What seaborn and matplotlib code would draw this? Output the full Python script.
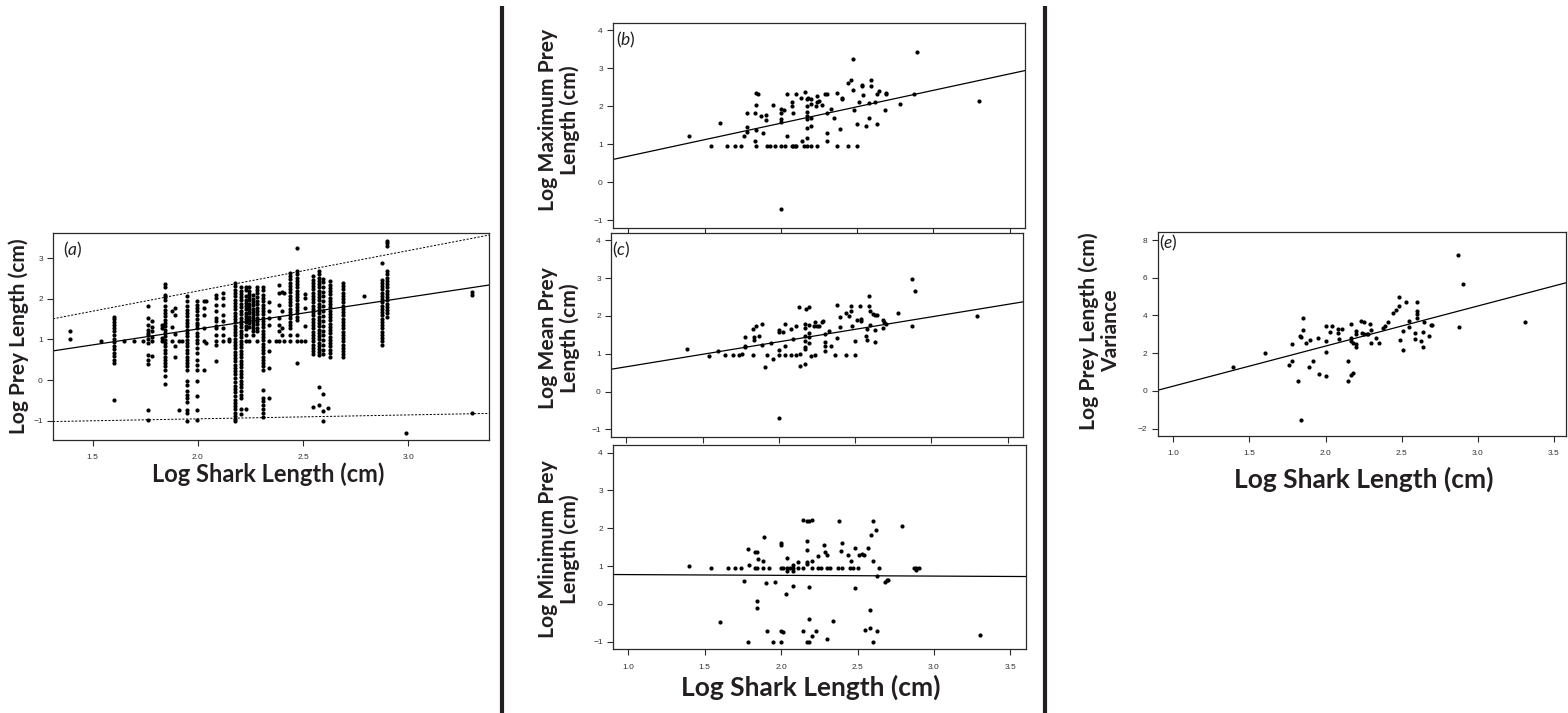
import numpy as np
import matplotlib
matplotlib.use("Agg")
import matplotlib.pyplot as plt
from matplotlib.lines import Line2D
import seaborn as sns

sns.set_theme(style="white")
plt.rcParams["font.family"] = ["Lato", "DejaVu Sans"]
plt.rcParams["mathtext.fontset"] = "custom"
plt.rcParams["mathtext.rm"] = "Lato"
plt.rcParams["mathtext.it"] = "Lato:italic"

# ---------------------------------------------------------------- panel (a)
# individual prey records, grouped by shark log length
a_cols_x = [1.39, 1.54, 1.60, 1.65, 1.695, 1.74, 1.765, 1.78, 1.83, 1.845,
            1.875, 1.89, 1.91, 1.925, 1.95, 1.995, 2.03, 2.04, 2.085, 2.12,
            2.15, 2.178, 2.205, 2.23, 2.245, 2.26, 2.28, 2.31, 2.34, 2.37,
            2.385, 2.40, 2.41, 2.44, 2.47, 2.49, 2.51, 2.545, 2.575, 2.595,
            2.62, 2.63, 2.69, 2.79, 2.875, 2.90, 2.99, 3.305]
a_cols_y = [
    [1.22, 1.00],
    [0.95],
    [1.56, 1.50, 1.44, 1.36, 1.28, 1.20, 1.10, 1.01, 0.93, 0.85, 0.76, 0.67, 0.59, 0.50, 0.41, -0.48],
    [0.95],
    [0.95],
    [0.95],
    [1.83, 1.54, 1.36, 1.24, 1.17, 1.12, 1.01, 0.91, 0.62, 0.50, 0.39, -0.73, -0.99],
    [1.46, 1.31, 1.21, 1.05, 0.95, 0.60],
    [1.36, 1.28, 1.03, 0.95],
    [2.37, 2.30, 2.10, 2.04, 1.98, 1.82, 1.73, 1.65, 1.57, 1.49, 1.40, 1.32, 1.24, 1.16,
     1.08, 0.99, 0.91, 0.83, 0.75, 0.67, 0.58, 0.50, 0.42, 0.34, 0.25, 0.09, -0.10],
    [1.71, 1.31, 0.95],
    [1.77, 1.61, 1.13, 0.83, 0.56],
    [0.95, -0.73],
    [0.95],
    [2.06, 1.94, 1.82, 1.73, 1.65, 1.57, 1.49, 1.40, 1.32, 1.24, 1.16, 1.08, 0.99, 0.91,
     0.83, 0.75, 0.67, 0.58, 0.50, 0.42, 0.34, 0.25, -0.03, -0.11, -0.28, -0.36, -0.44,
     -0.53, -0.73, -0.81, -1.00],
    [1.95, 1.86, 1.77, 1.69, 1.61, 1.51, 1.40, 1.36, 1.28, 1.16, 1.08, 0.99, 0.91, 0.79,
     0.67, 0.50, 0.38, 0.25, -0.03, -0.40, -0.73, -0.99],
    [1.94, 1.77, 1.59, 1.28, 0.95, 0.25],
    [1.95, 0.91],
    [2.10, 2.02, 1.86, 1.71, 1.54, 1.46, 1.32, 1.28, 1.12, 0.95, 0.87, 0.48],
    [2.14, 2.02, 1.86, 1.61, 1.45, 1.28, 1.12, 0.95],
    [1.00, 0.95],
    [2.38, 2.31, 2.22, 2.14, 2.06, 1.98, 1.90, 1.82, 1.74, 1.66, 1.58, 1.50, 1.42, 1.34,
     1.26, 1.18, 1.10, 1.02, 0.94, 0.86, 0.78, 0.70, 0.62, 0.54, 0.46, 0.38, 0.30, 0.22,
     0.14, 0.05, -0.04, -0.14, -0.22, -0.30, -0.40, -0.48, -0.56, -0.64, -0.72, -0.80,
     -0.88, -0.96, -1.00],
    [2.28, 2.20, 2.12, 2.04, 1.96, 1.88, 1.80, 1.70, 1.62, 1.54, 1.46, 1.38, 1.30, 1.22,
     1.14, 1.05, 0.97, 0.89, 0.81, 0.72, 0.64, 0.56, 0.48, 0.40, 0.31, 0.23, 0.15, 0.07,
     -0.02, -0.10, -0.18, -0.27, -0.36, -0.44, -0.72, -0.84],
    [2.30, 2.22, 2.06, 1.98, 1.90, 1.82, 1.74, 1.66, 1.58, 1.50, 1.42, 1.34, 1.26, 1.10, 0.95, -0.72],
    [2.28, 2.20, 2.12, 2.04, 1.96, 1.88, 1.80, 1.72, 1.64, 1.56, 1.48, 1.40, 1.30, 0.97],
    [2.10, 2.00, 1.92, 1.84, 1.76, 1.68, 1.60, 1.52, 1.44, 1.36, 1.28, 1.20, 1.12],
    [2.30, 2.22, 2.14, 2.04, 1.95, 1.87, 1.78, 1.70, 1.62, 1.53, 1.45, 1.37, 1.29, 1.21, 0.95],
    [2.30, 2.22, 2.10, 2.02, 1.94, 1.86, 1.78, 1.70, 1.62, 1.54, 1.46, 1.38, 1.30, 1.22,
     1.14, 1.06, 0.98, 0.90, 0.82, 0.74, 0.66, 0.58, 0.50, 0.42, 0.34, 0.26, -0.24, -0.44,
     -0.52, -0.62, -0.70, -0.80, -0.90],
    [1.92, 1.69, 1.54, 1.36, 0.95, 0.71, 0.30, -0.44],
    [0.95],
    [2.35, 2.14, 1.86, 1.53, 1.36, 1.20, 0.95],
    [2.18, 1.69, 1.28, 1.12],
    [2.14, 0.95],
    [2.64, 2.56, 2.48, 2.40, 2.32, 2.24, 2.16, 2.08, 2.00, 1.92, 1.84, 1.76, 1.68, 1.60,
     1.52, 1.44, 1.36, 1.28, 1.12, 0.95],
    [3.25, 2.68, 2.60, 2.52, 2.44, 2.36, 2.28, 2.20, 2.12, 2.04, 1.96, 1.88, 1.80, 1.72,
     1.64, 1.56, 1.48, 1.12, 0.95, 0.42],
    [0.95],
    [2.12, 2.02, 1.77, 1.32, 0.95],
    [2.55, 2.47, 2.39, 2.31, 2.23, 2.15, 2.07, 1.99, 1.91, 1.83, 1.75, 1.67, 1.59, 1.51,
     1.43, 1.35, 1.27, 1.19, 1.11, 1.03, 0.95, 0.87, 0.79, 0.71, 0.63, -0.67],
    [2.68, 2.60, 2.52, 2.44, 2.36, 2.28, 2.20, 2.12, 2.04, 1.96, 1.88, 1.80, 1.72, 1.64,
     1.56, 1.48, 1.40, 1.32, 1.24, 1.16, 1.08, 1.00, 0.92, 0.84, 0.76, 0.68, 0.62, -0.16, -0.61],
    [2.50, 2.42, 2.30, 2.18, 2.06, 1.94, 1.82, 1.70, 1.58, 1.46, 1.34, 1.22, 1.10, 0.98,
     0.86, 0.74, 0.64, -0.34, -0.76, -1.00],
    [-0.69],
    [2.43, 2.35, 2.27, 2.19, 2.11, 2.03, 1.95, 1.87, 1.79, 1.71, 1.63, 1.55, 1.47, 1.39,
     1.31, 1.23, 1.15, 1.07, 0.99, 0.91, 0.83, 0.75, 0.67, 0.58],
    [2.39, 2.31, 2.23, 2.15, 2.07, 1.99, 1.91, 1.83, 1.75, 1.67, 1.59, 1.51, 1.43, 1.35,
     1.27, 1.19, 1.11, 1.03, 0.95, 0.87, 0.79, 0.71, 0.63, 0.58],
    [2.08],
    [2.88, 2.47, 2.39, 2.31, 2.23, 2.15, 2.07, 1.99, 1.91, 1.83, 1.75, 1.67, 1.59, 1.51,
     1.43, 1.35, 1.27, 1.19, 1.11, 1.03, 0.95, 0.86],
    [3.43, 3.37, 3.31, 2.68, 2.60, 2.52, 2.44, 2.36, 2.28, 2.20, 2.12, 2.04, 1.96, 1.88,
     1.80, 1.72, 1.64, 1.56],
    [-1.31],
    [2.17, 2.10, -0.81],
]
# regression lines (intercept, slope): 10th, 50th and 90th percentile
a_fit_lower = (-1.147, 0.0965)
a_fit_mid = (-0.307, 0.782)
a_fit_upper = (0.205, 0.994)

# ---------------------------------------------------------------- panel (b)
b_shark = [1.40, 1.54, 1.60, 1.65, 1.70, 1.74, 1.76, 1.78, 1.78, 1.78, 1.83, 1.83,
           1.84, 1.84, 1.84, 1.84, 1.85, 1.87, 1.88, 1.90, 1.90, 1.91, 1.93, 1.95,
           1.96, 2.00, 2.00, 2.00, 2.00, 2.00, 2.00, 2.02, 2.03, 2.04, 2.04, 2.07,
           2.08, 2.09, 2.07, 2.07, 2.08, 2.10, 2.10, 2.13, 2.14, 2.15, 2.16, 2.17,
           2.17, 2.17, 2.17, 2.17, 2.17, 2.17, 2.17, 2.18, 2.20, 2.20, 2.20, 2.20,
           2.20, 2.23, 2.24, 2.24, 2.24, 2.25, 2.27, 2.29, 2.30, 2.30, 2.30, 2.30,
           2.33, 2.35, 2.37, 2.37, 2.39, 2.40, 2.40, 2.44, 2.44, 2.46, 2.47, 2.47,
           2.48, 2.50, 2.50, 2.51, 2.53, 2.53, 2.54, 2.56, 2.58, 2.58, 2.59, 2.59,
           2.62, 2.63, 2.63, 2.64, 2.68, 2.69, 2.69, 2.78, 2.87, 2.89, 3.30]
b_max = [1.22, 0.96, 1.56, 0.96, 0.96, 0.96, 1.22, 1.82, 1.44, 1.31, 1.08, 1.82,
         0.96, 1.37, 2.02, 2.35, 2.32, 1.73, 1.30, 1.77, 1.63, 0.96, 0.96, 2.04,
         0.96, 1.93, 1.81, 1.67, 1.58, 0.96, -0.71, 1.89, 0.96, 1.22, 2.32, 0.96,
         0.96, 0.96, 2.11, 2.00, 1.81, 2.31, 0.96, 2.22, 1.08, 0.96, 2.38, 2.18,
         2.00, 1.84, 1.74, 1.67, 1.42, 1.15, 0.96, 2.22, 2.18, 2.07, 1.69, 1.48,
         0.96, 2.00, 2.10, 2.28, 0.96, 2.13, 2.04, 2.32, 2.32, 1.81, 1.30, 1.08,
         1.92, 1.70, 0.96, 2.35, 1.40, 2.20, 2.22, 2.62, 0.96, 2.68, 3.25, 2.42,
         1.89, 0.96, 1.53, 2.11, 2.53, 2.55, 2.29, 1.48, 1.68, 2.09, 2.53, 2.68,
         2.11, 1.54, 2.32, 2.40, 1.89, 2.31, 2.36, 2.07, 2.31, 3.43, 2.14]
b_fit = (-0.182, 0.867)

# ---------------------------------------------------------------- panel (c)
c_shark = [1.40, 1.54, 1.60, 1.65, 1.70, 1.74, 1.76, 1.78, 1.78, 1.78, 1.83, 1.83,
           1.84, 1.84, 1.85, 1.87, 1.89, 1.89, 1.91, 1.92, 1.95, 1.96, 2.00, 2.00,
           2.00, 2.00, 2.00, 2.03, 2.04, 2.04, 2.04, 2.08, 2.09, 2.08, 2.11, 2.11,
           2.13, 2.14, 2.14, 2.17, 2.17, 2.18, 2.17, 2.17, 2.17, 2.17, 2.17, 2.20,
           2.20, 2.20, 2.20, 2.20, 2.21, 2.23, 2.24, 2.25, 2.26, 2.24, 2.28, 2.29,
           2.30, 2.30, 2.30, 2.30, 2.33, 2.34, 2.37, 2.38, 2.38, 2.40, 2.40, 2.44,
           2.44, 2.46, 2.47, 2.47, 2.48, 2.50, 2.51, 2.50, 2.53, 2.54, 2.54, 2.57,
           2.58, 2.58, 2.59, 2.59, 2.60, 2.60, 2.62, 2.63, 2.64, 2.63, 2.63, 2.68,
           2.68, 2.69, 2.70, 2.78, 2.87, 2.87, 2.89, 3.30]
c_mean = [1.13, 0.95, 1.07, 0.97, 0.97, 0.97, 1.00, 1.43, 1.21, 1.19, 1.65, 0.96,
          1.43, 1.36, 1.74, 1.47, 1.24, 1.79, 0.66, 0.96, 1.29, 0.85, 1.64, 1.57,
          1.09, 0.96, -0.71, 1.58, 1.79, 1.21, 0.96, 1.66, 1.38, 0.96, 0.96, 1.74,
          2.23, 1.00, 0.67, 1.78, 0.73, 2.18, 1.68, 1.46, 1.33, 1.18, 1.13, 2.23,
          1.77, 1.55, 1.43, 1.29, 0.95, 1.74, 1.83, 1.73, 1.74, 0.96, 1.85, 1.86,
          1.51, 1.30, 1.21, 1.07, 1.61, 1.20, 0.96, 2.30, 1.41, 1.71, 1.97, 2.09,
          0.96, 1.99, 2.14, 2.26, 1.74, 1.33, 1.88, 0.96, 2.26, 1.92, 1.86, 1.48,
          1.65, 1.37, 2.52, 2.27, 2.12, 1.75, 2.06, 2.03, 2.03, 1.64, 1.31, 1.68,
          1.88, 1.83, 1.79, 2.09, 2.98, 1.73, 2.65, 2.00]
c_fit = (-0.004, 0.66)

# ---------------------------------------------------------------- panel (d)
d_shark = [1.40, 1.54, 1.60, 1.65, 1.70, 1.74, 1.76, 1.78, 1.78, 1.79, 1.83, 1.84,
           1.83, 1.84, 1.84, 1.84, 1.85, 1.88, 1.88, 1.89, 1.90, 1.91, 1.92, 1.95,
           1.96, 2.00, 2.00, 2.00, 2.01, 2.00, 2.01, 2.00, 2.03, 2.04, 2.04, 2.04,
           2.06, 2.08, 2.08, 2.08, 2.08, 2.11, 2.11, 2.14, 2.14, 2.14, 2.17, 2.17,
           2.17, 2.17, 2.17, 2.18, 2.20, 2.18, 2.18, 2.17, 2.18, 2.20, 2.20, 2.20,
           2.23, 2.24, 2.24, 2.26, 2.28, 2.29, 2.30, 2.30, 2.30, 2.32, 2.34, 2.37,
           2.40, 2.38, 2.39, 2.40, 2.44, 2.45, 2.46, 2.47, 2.48, 2.48, 2.50, 2.51,
           2.53, 2.54, 2.55, 2.57, 2.58, 2.58, 2.59, 2.60, 2.60, 2.60, 2.62, 2.63,
           2.63, 2.64, 2.68, 2.69, 2.70, 2.79, 2.87, 2.88, 2.88, 2.90, 3.30]
d_min = [1.00, 0.94, -0.49, 0.96, 0.96, 0.96, 0.60, 1.44, -1.00, 1.04, 0.96, 0.96,
         1.38, 1.36, 0.07, -0.10, 1.18, 0.96, 1.14, 1.78, 0.55, -0.72, 0.96, -1.00,
         0.58, 1.61, 1.55, 0.96, 0.96, -0.72, -0.75, -1.00, 0.26, 1.21, 0.96, 0.86,
         0.96, 1.04, 0.96, 0.86, 0.48, 0.96, 1.11, 2.22, 0.96, -0.72, 1.67, 1.10,
         1.05, 1.42, 2.20, 2.19, 2.22, 0.45, -0.41, -1.00, -1.00, 0.96, 1.14, -0.86,
         -0.72, 1.26, 0.96, 0.96, 1.55, 1.38, 1.30, 0.96, -0.93, 0.96, -0.45, 0.96,
         0.96, 2.20, 1.39, 1.60, 1.29, 0.96, 1.14, 0.96, 0.41, 1.47, 0.96, 1.29,
         1.33, 1.29, -0.69, 1.47, -0.17, -0.64, 1.83, 2.20, 1.14, -1.00, 1.95, -0.72,
         0.75, 0.96, 0.59, 0.63, 0.63, 2.07, 0.96, 0.89, 0.96, 0.96, -0.83]
d_fit = (0.794, -0.0196)

# ---------------------------------------------------------------- panel (e)
e_shark = [1.39, 1.60, 1.76, 1.78, 1.78, 1.82, 1.83, 1.84, 1.85, 1.85, 1.84, 1.87,
           1.89, 1.90, 1.92, 1.95, 1.96, 2.00, 2.00, 2.00, 2.00, 2.03, 2.04, 2.08,
           2.08, 2.09, 2.11, 2.15, 2.15, 2.17, 2.18, 2.17, 2.17, 2.17, 2.18, 2.20,
           2.20, 2.20, 2.20, 2.23, 2.25, 2.24, 2.25, 2.27, 2.28, 2.29, 2.30, 2.30,
           2.33, 2.35, 2.38, 2.39, 2.41, 2.44, 2.46, 2.48, 2.48, 2.49, 2.51, 2.51,
           2.53, 2.55, 2.55, 2.59, 2.59, 2.60, 2.60, 2.60, 2.60, 2.63, 2.64, 2.64,
           2.65, 2.68, 2.69, 2.70, 2.87, 2.88, 2.90, 3.31]
e_var = [1.29, 2.00, 1.40, 2.51, 1.61, 0.51, 2.93, 2.86, 3.22, 3.87, -1.55, 2.54,
         1.27, 2.70, 1.57, 2.79, 0.90, 3.43, 2.08, 2.63, 0.81, 3.14, 3.43, 3.27,
         3.09, 2.77, 3.27, 1.57, 0.51, 0.87, 0.97, 3.53, 2.83, 2.65, 2.54, 3.16,
         3.04, 2.49, 2.33, 3.69, 3.67, 3.09, 3.02, 3.00, 3.00, 3.53, 3.22, 2.54,
         2.81, 2.54, 3.36, 3.46, 3.66, 4.15, 4.28, 4.98, 4.51, 2.69, 2.16, 3.18,
         4.73, 3.69, 3.39, 3.07, 2.74, 4.73, 4.24, 4.06, 3.85, 2.65, 3.13, 2.33,
         3.66, 2.90, 3.52, 3.52, 7.19, 3.39, 5.69, 3.66]
e_fit = (-1.869, 2.123)

# ---------------------------------------------------------------- layout
W, H = 1568, 713
fig = plt.figure(figsize=(W / 100, H / 100), dpi=100)
TICK_FONT = "Liberation Sans"


def add_axes(left, top, right, bottom):
    return fig.add_axes([left / W, 1 - bottom / H, (right - left) / W, (bottom - top) / H])


def style(ax, xlim, ylim, xticks, yticks, xlabels=True):
    ax.set_xlim(*xlim)
    ax.set_ylim(*ylim)
    ax.set_xticks(xticks)
    ax.set_yticks(yticks)
    ax.set_xticklabels([f"{t:.1f}" for t in xticks] if xlabels else [])
    ax.set_yticklabels([f"{t:g}".replace("-", "\u2212") for t in yticks])
    ax.set_xlabel("")
    ax.set_ylabel("")
    for s in ax.spines.values():
        s.set_visible(True)
        s.set_color("#2a2a2a")
        s.set_linewidth(0.9)
    ax.tick_params(axis="both", which="major", direction="out", length=4.3, width=0.8,
                   color="#2a2a2a", labelsize=6, labelcolor="#333333",
                   labelfontfamily=TICK_FONT, bottom=True, left=True)
    ax.tick_params(axis="x", pad=6)
    ax.tick_params(axis="y", pad=3)
    ax.grid(False)


def scatter(ax, xs, ys):
    sns.scatterplot(x=xs, y=ys, ax=ax, color="black", s=9, linewidth=0, legend=False)


def fit_line(ax, coef, dashed=False):
    x0, x1 = ax.get_xlim()
    xs = np.array([x0, x1])
    ys = coef[0] + coef[1] * xs
    sns.lineplot(x=xs, y=ys, ax=ax, color="black", linewidth=0.7 if dashed else 0.9,
                 linestyle=(0, (2.2, 1.6)) if dashed else "-", legend=False)


# panel (a)
ax_a = add_axes(53, 233, 489, 440)
a_lims = ((1.311, 3.384), (-1.475, 3.62))
ax_a.set_xlim(*a_lims[0])
ax_a.set_ylim(*a_lims[1])
a_x = np.concatenate([[x] * len(ys) for x, ys in zip(a_cols_x, a_cols_y)])
a_y = np.concatenate(a_cols_y)
scatter(ax_a, a_x, a_y)
for coef, dashed in [(a_fit_lower, True), (a_fit_mid, False), (a_fit_upper, True)]:
    fit_line(ax_a, coef, dashed)
style(ax_a, *a_lims, [1.5, 2.0, 2.5, 3.0], [-1, 0, 1, 2, 3])

# panels (b), (c), (d)
mid_lims = ((0.90, 3.60), (-1.2, 4.2))
mid_xt = [1.0, 1.5, 2.0, 2.5, 3.0, 3.5]
mid_yt = [-1, 0, 1, 2, 3, 4]
panels = [
    ((613, 22.7, 1025, 227.7), b_shark, b_max, b_fit, False),
    ((611, 232.7, 1023, 437), c_shark, c_mean, c_fit, False),
    ((613, 445, 1025.7, 649.3), d_shark, d_min, d_fit, True),
]
for box, xs, ys, coef, labels in panels:
    ax = add_axes(*box)
    ax.set_xlim(*mid_lims[0])
    ax.set_ylim(*mid_lims[1])
    scatter(ax, xs, ys)
    fit_line(ax, coef)
    style(ax, *mid_lims, mid_xt, mid_yt, xlabels=labels)

# panel (e)
ax_e = add_axes(1157.7, 231.7, 1566, 436)
e_lims = ((0.897, 3.58), (-2.39, 8.44))
ax_e.set_xlim(*e_lims[0])
ax_e.set_ylim(*e_lims[1])
scatter(ax_e, e_shark, e_var)
fit_line(ax_e, e_fit)
style(ax_e, *e_lims, mid_xt, [-2, 0, 2, 4, 6, 8])

# ---------------------------------------------------------------- text
def ftext(x, y, s, **kw):
    fig.text(x / W, 1 - y / H, s, **kw)


LAB = dict(fontweight="bold", color="#231f20", ha="center", va="center")
ftext(19, 336, "Log Prey Length (cm)", rotation=90, fontsize=15, **LAB)
ftext(268, 474, "Log Shark Length (cm)", fontsize=17, **LAB)
ftext(559, 120, "Log Maximum Prey\nLength (cm)", rotation=90, fontsize=15.2,
      linespacing=1.1, multialignment="center", **LAB)
ftext(559, 338, "Log Mean Prey\nLength (cm)", rotation=90, fontsize=15.2,
      linespacing=1.1, multialignment="center", **LAB)
ftext(559, 549, "Log Minimum Prey\nLength (cm)", rotation=90, fontsize=15.2,
      linespacing=1.1, multialignment="center", **LAB)
ftext(811, 687, "Log Shark Length (cm)", fontsize=19, **LAB)
ftext(1100, 331, "Log Prey Length (cm)\nVariance", rotation=90, fontsize=15.2,
      linespacing=1.1, multialignment="center", **LAB)
ftext(1364, 479, "Log Shark Length (cm)", fontsize=19, **LAB)

for x, y, letter in [(63, 250, "a"), (616, 40, "b"), (612, 250, "c"), (1159, 243, "e")]:
    ftext(x, y, r"($\mathit{" + letter + "}$)", fontsize=12.5, color="#231f20",
          ha="left", va="center")

# vertical separators between the column groups
for xpx in (502, 1044.5):
    fig.add_artist(Line2D([xpx / W, xpx / W], [0, 1 - 6 / H], transform=fig.transFigure,
                          color="#231f20", linewidth=3.0, solid_capstyle="butt"))

fig.savefig("out.png", dpi=100)
